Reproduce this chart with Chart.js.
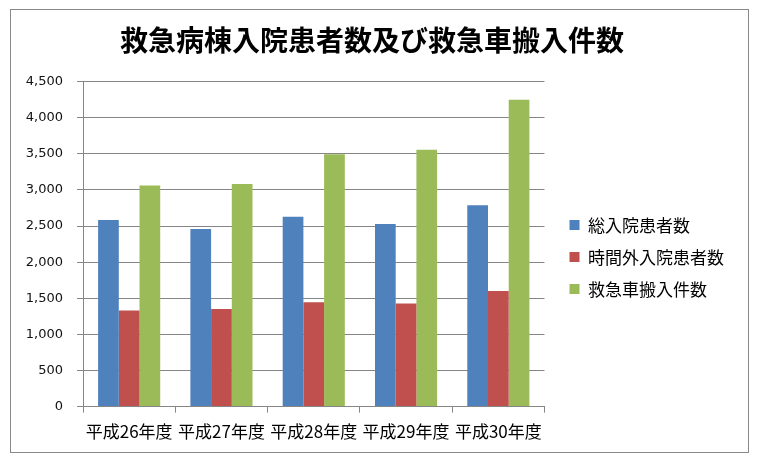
<!DOCTYPE html>
<html lang="ja">
<head>
<meta charset="utf-8">
<title>救急病棟入院患者数及び救急車搬入件数</title>
<script src="https://cdn.jsdelivr.net/npm/chart.js@4/dist/chart.umd.min.js"></script>
<style>
  html, body { margin: 0; padding: 0; background: #fff; }
  #box { position: relative; width: 760px; height: 461px; }
  #frame {
    position: absolute; left: 10px; top: 9px; width: 737px; height: 442px;
    border: 1px solid #888; pointer-events: none;
  }
</style>
</head>
<body>
<div id="box">
  <canvas id="grafico"></canvas>
  <div id="frame"></div>
</div>
<script>
// dati
const anni = ["平成26年度", "平成27年度", "平成28年度", "平成29年度", "平成30年度"];
const totaleRicoveri = [2583, 2458, 2630, 2528, 2787];
const ricoveriFuoriOrario = [1329, 1352, 1444, 1426, 1602];
const ambulanze = [3060, 3083, 3495, 3556, 4250];

const TITOLO = "救急病棟入院患者数及び救急車搬入件数";
const JP = '"Noto Sans CJK JP", "Noto Sans", sans-serif';
const GRIGIO = "#868686";

function creaGrafico(){
  const ctx = document.getElementById("grafico").getContext("2d");
  return new Chart(ctx, {
    type: "bar",
    data: {
      labels: anni,
      datasets: [
        { label: "総入院患者数", data: totaleRicoveri, backgroundColor: "#4F81BD", borderWidth: 0 },
        { label: "時間外入院患者数", data: ricoveriFuoriOrario, backgroundColor: "#C0504D", borderWidth: 0 },
        { label: "救急車搬入件数", data: ambulanze, backgroundColor: "#9BBB59", borderWidth: 0 }
      ]
    },
    options: {
      responsive: true,
      maintainAspectRatio: false,
      animation: false,
      datasets: { bar: { categoryPercentage: 0.673, barPercentage: 1 } },
      layout: { padding: { top: 14, left: 10, right: 26, bottom: 10 } },
      scales: {
        x: {
          grid: { display: true, offset: true, drawOnChartArea: false, color: GRIGIO, tickLength: 6 },
          border: { color: GRIGIO },
          ticks: { color: "#000", padding: 9, maxRotation: 0, font: { family: JP, size: 17 } }
        },
        y: {
          min: 0, max: 4500,
          grid: { color: GRIGIO, tickLength: 6 },
          border: { color: GRIGIO },
          ticks: {
            stepSize: 500, color: "#111", padding: 14,
            font: { family: '"DejaVu Sans", sans-serif', size: 13 },
            callback: v => v.toLocaleString("en-US")
          },
          afterFit: s => { s.width = 73; }
        },
        // asse nascosto: solo spazio tra grafico e legenda
        gap: {
          axis: "y", type: "linear", position: "right", display: false,
          afterFit: s => { s.width = 10; }
        }
      },
      plugins: {
        title: {
          display: true, text: TITOLO, color: "#000",
          font: { family: JP, size: 28, weight: "bold" },
          padding: { top: 10, bottom: 24 }
        },
        legend: {
          position: "right",
          fullSize: false,
          title: { display: true, text: " ", font: { size: 10 }, padding: { top: 0, bottom: 14 } },
          labels: {
            boxWidth: 10, boxHeight: 10, padding: 15, color: "#000",
            font: { family: JP, size: 17 }
          }
        },
        tooltip: { enabled: false }
      }
    }
  });
}

if(document.readyState === "loading") document.addEventListener("DOMContentLoaded", creaGrafico);
else creaGrafico();
</script>
</body>
</html>
